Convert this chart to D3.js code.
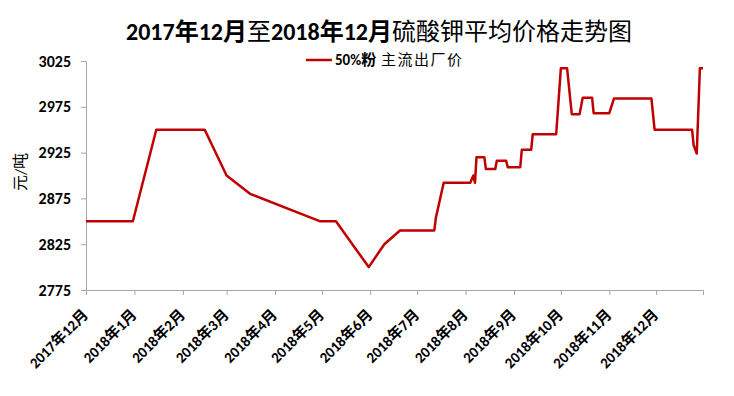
<!DOCTYPE html>
<html>
<head>
<meta charset="utf-8">
<script src="https://cdn.jsdelivr.net/npm/d3@7"></script>
<style>
  body { margin: 0; background: #fff; }
  text { font-family: Calibri, Carlito, "Liberation Sans", "Noto Sans CJK SC", sans-serif; }
</style>
</head>
<body>
<div class="chartspace"></div>
<script>
// 50%粉 主流出厂价, 元/吨
var dates = ["2017-12-01","2017-12-31","2018-01-15","2018-02-15","2018-03-01","2018-03-16",
  "2018-04-30","2018-05-10","2018-05-31","2018-06-10","2018-06-20","2018-07-12","2018-07-13",
  "2018-07-18","2018-08-04","2018-08-06","2018-08-07","2018-08-08","2018-08-13","2018-08-14",
  "2018-08-20","2018-08-21","2018-08-27","2018-08-28","2018-09-05","2018-09-06","2018-09-12",
  "2018-09-13","2018-09-28","2018-10-01","2018-10-05","2018-10-08","2018-10-13","2018-10-15",
  "2018-10-21","2018-10-22","2018-11-01","2018-11-04","2018-11-28","2018-11-30","2018-12-24",
  "2018-12-25","2018-12-27","2018-12-29","2018-12-31"];
var prices = [2850,2850,2950,2950,2900,2880,
  2850,2850,2800,2825,2840,2840,2854,
  2892,2892,2900,2892,2920,2920,2907,
  2907,2916,2916,2909,2909,2928,2928,
  2945,2945,3017,3017,2967,2967,2985,
  2985,2968,2968,2984,2984,2950,2950,
  2933,2924,3017,3017];
var yTicks = [2775,2825,2875,2925,2975,3025];
var monthTicks = ["2017-12-01","2018-01-01","2018-02-01","2018-03-01","2018-04-01","2018-05-01",
  "2018-06-01","2018-07-01","2018-08-01","2018-09-01","2018-10-01","2018-11-01","2018-12-01"];

var parse = d3.timeParse("%Y-%m-%d");
var data = dates.map(function (d, i) { return { date: parse(d), value: prices[i] }; });

var svg = d3.select(".chartspace").append("svg")
  .attr("width", 734)
  .attr("height", 396);

var x = d3.scaleTime()
  .domain([parse("2017-12-01"), parse("2018-12-31")])
  .range([86, 703]);
var y = d3.scaleLinear()
  .domain([2775, 3025])
  .range([290, 61]);

// title
var title = svg.append("text")
  .attr("x", 379).attr("y", 40)
  .attr("text-anchor", "middle")
  .style("font-size", "24px");
[["2017年12月", 700], ["至", 400], ["2018年12月", 700], ["硫酸钾平均价格走势图", 400]].forEach(function (p) {
  title.append("tspan").text(p[0]).style("font-weight", p[1]);
});

// legend
svg.append("line")
  .attr("x1", 306).attr("x2", 332).attr("y1", 60).attr("y2", 60)
  .attr("stroke", "#c00000").attr("stroke-width", 2.5);
var leg = svg.append("text").attr("x", 335).attr("y", 65).style("font-size", "15px");
leg.append("tspan").text("50%粉").style("font-weight", 700);
leg.append("tspan").text(" 主流出厂价").style("letter-spacing", "1.5px");

// y axis
var yAxis = svg.append("g")
  .attr("transform", "translate(86,0)")
  .call(d3.axisLeft(y).tickValues(yTicks).tickFormat(d3.format("d"))
    .tickSize(5).tickSizeOuter(0).tickPadding(10));
yAxis.selectAll("text").style("font-size", "16px").style("font-weight", 700).attr("fill", "#000");

svg.append("text")
  .attr("transform", "translate(20,172) rotate(-90)")
  .attr("text-anchor", "middle")
  .attr("dy", "0.35em")
  .style("font-size", "16px")
  .text("元/吨");

// x axis
var xAxis = svg.append("g")
  .attr("transform", "translate(0,290)")
  .call(d3.axisBottom(x).tickValues(monthTicks.map(parse)).tickSize(5).tickSizeOuter(5)
    .tickFormat(function (d) { return d.getFullYear() + "年" + (d.getMonth() + 1) + "月"; }));
xAxis.selectAll("text")
  .style("font-size", "15px").style("font-weight", 700).attr("fill", "#000")
  .attr("text-anchor", "end")
  .attr("dy", "0.35em")
  .attr("transform", "translate(-1,22) rotate(-45)")
  .attr("y", 0).attr("x", 0);

svg.selectAll(".domain, .tick line").attr("stroke", "#a6a6a6");

// price line
var line = d3.line()
  .x(function (d) { return x(d.date); })
  .y(function (d) { return y(d.value); });

svg.append("path")
  .datum(data)
  .attr("d", line)
  .attr("fill", "none")
  .attr("stroke", "#c00000")
  .attr("stroke-width", 2.5)
  .attr("stroke-linejoin", "round");
</script>
</body>
</html>
